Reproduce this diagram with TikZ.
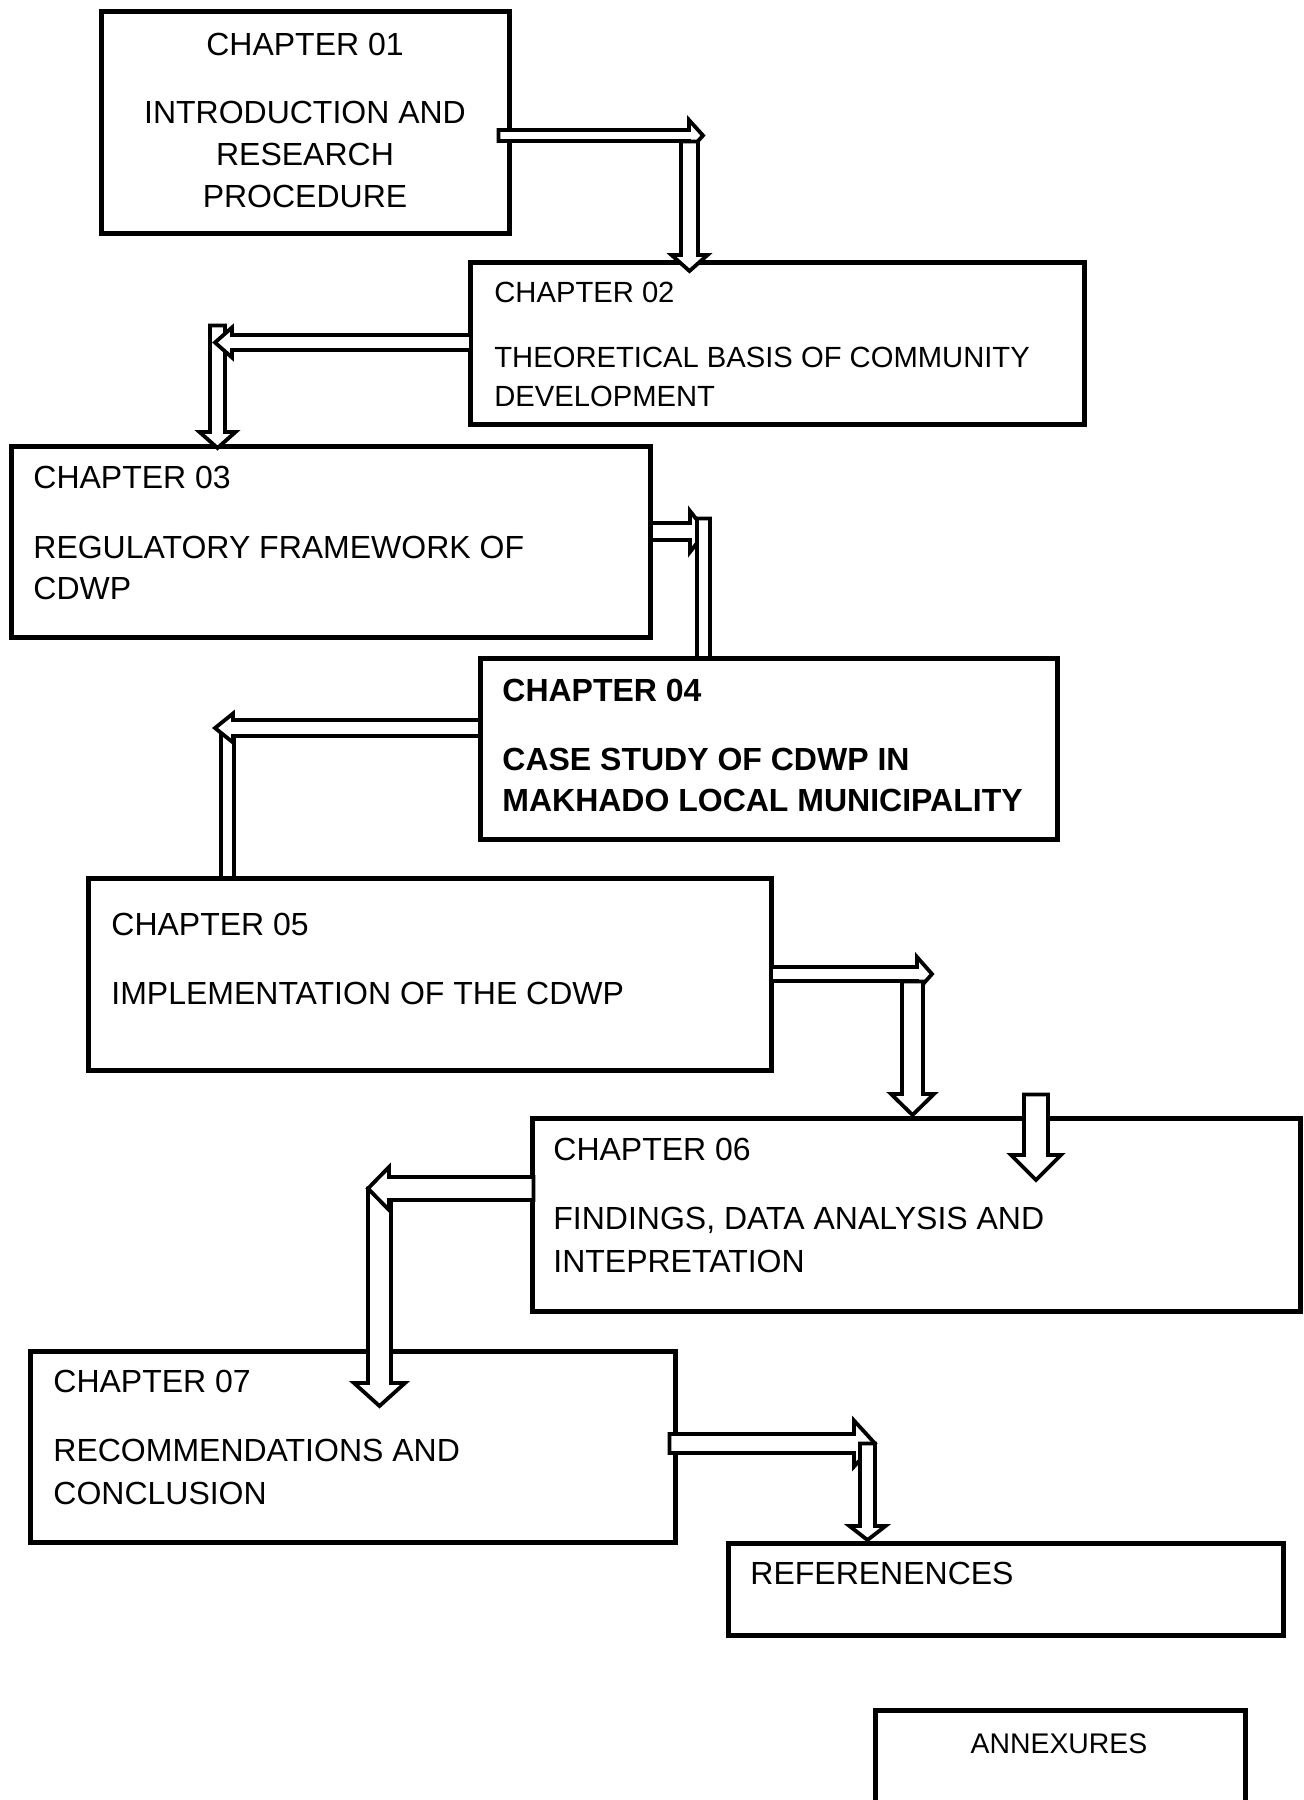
\documentclass[tikz,border=0pt]{standalone}
\usepackage{fontspec}
\setmainfont{Liberation Sans}
\usetikzlibrary{fit}

% hollow block arrows (coordinates in px, y pointing down)
% right: x-start, x-tip, y, shaft half-width, head half-width, head length
\newcommand\blkright[6]{\path[blockarrow] (#1,#3-#4) -- (#2-#6,#3-#4) -- (#2-#6,#3-#5) -- (#2,#3) -- (#2-#6,#3+#5) -- (#2-#6,#3+#4) -- (#1,#3+#4) -- cycle;}
% left: x-start, x-tip, y, shaft half-width, head half-width, head length
\newcommand\blkleft[6]{\path[blockarrow] (#1,#3-#4) -- (#2+#6,#3-#4) -- (#2+#6,#3-#5) -- (#2,#3) -- (#2+#6,#3+#5) -- (#2+#6,#3+#4) -- (#1,#3+#4) -- cycle;}
% down: x, y-start, y-tip, shaft half-width, head half-width, head length
\newcommand\blkdown[6]{\path[blockarrow] (#1-#4,#2) -- (#1-#4,#3-#6) -- (#1-#5,#3-#6) -- (#1,#3) -- (#1+#5,#3-#6) -- (#1+#4,#3-#6) -- (#1+#4,#2) -- cycle;}

\tikzset{
  chapbox/.style={draw, line width=2.5pt, fill=white, inner sep=0pt, rectangle},
  blockarrow/.style={draw, line width=1.9pt, fill=white, line join=miter, miter limit=10},
  lbl/.style={anchor=base west, inner sep=0pt, font=\fontsize{16pt}{19pt}\selectfont},
  lblsmall/.style={lbl, font=\fontsize{14.6pt}{18pt}\selectfont},
  lblbold/.style={lbl, font=\fontsize{16pt}{19pt}\selectfont\bfseries},
  lblmid/.style={lbl, anchor=base},
}

\begin{document}
\begin{tikzpicture}[x=0.5pt, y=-0.5pt]
\useasboundingbox (0,0) rectangle (1303,1800);
\fill[white] (0,0) rectangle (1303,1800);

% arrows that run underneath the chapter 04 and 05 boxes
\blkright{650}{706}{531.5}{8.5}{20.5}{16}
\blkdown{703.5}{518.5}{700}{6.5}{18}{16}
\blkdown{227.5}{728}{900}{6.5}{18}{16}
\blkleft{482}{215}{728}{8}{14.5}{18}

% chapter boxes
\node[chapbox, fit={(101,11) (509,233)}] (c1) {};
\node[chapbox, fit={(470,262) (1084,424)}] (c2) {};
\node[chapbox, fit={(11,446) (650,637)}] (c3) {};
\node[chapbox, fit={(480,658) (1057,839)}] (c4) {};
\node[chapbox, fit={(88,878) (771,1070)}] (c5) {};
\node[chapbox, fit={(532,1118) (1300.5,1311)}] (c6) {};
\node[chapbox, fit={(30,1351) (675,1542)}] (c7) {};
\node[chapbox, fit={(728,1543) (1283,1635)}] (refs) {};
\node[chapbox, fit={(875,1710) (1245,1830)}] (annex) {};

% arrows drawn over the boxes
\blkright{498.5}{703}{135.5}{5.5}{15.5}{14}
\blkdown{689.5}{141.5}{271}{8.5}{18}{16}
\blkdown{217.5}{325.5}{448}{7.5}{18}{16}
\blkleft{471}{215}{342.5}{7.5}{15}{17}
\blkright{771}{932}{974}{7}{17}{15}
\blkdown{912.5}{981.5}{1115}{10.5}{21.5}{21}
\blkdown{1036}{1094.5}{1180}{12}{25}{25}
\blkdown{379.5}{1188.5}{1406}{11.5}{25.5}{23}
\blkleft{533.5}{368}{1188.5}{11.5}{21.5}{21}
\blkright{669.5}{875}{1443.5}{9.5}{23}{21}
\blkdown{867.5}{1443.5}{1540}{7.5}{18}{14}

% texts
\node[lblmid] (t1a) at (305,55) {CHAPTER 01};
\node[lblmid] (t1b) at (305,123) {INTRODUCTION AND};
\node[lblmid] (t1c) at (305,165.3) {RESEARCH};
\node[lblmid] (t1d) at (305,207.8) {PROCEDURE};

\node[lblsmall] (t2a) at (494,302) {CHAPTER 02};
\node[lblsmall] (t2b) at (494,367.5) {THEORETICAL BASIS OF COMMUNITY};
\node[lblsmall] (t2c) at (494,406.5) {DEVELOPMENT};

\node[lbl] (t3a) at (33,488) {CHAPTER 03};
\node[lbl] (t3b) at (33,558) {REGULATORY FRAMEWORK OF};
\node[lbl] (t3c) at (33,599.5) {CDWP};

\node[lblbold] (t4a) at (502,701.5) {CHAPTER 04};
\node[lblbold] (t4b) at (502,770.5) {CASE STUDY OF CDWP IN};
\node[lblbold] (t4c) at (502,811.5) {MAKHADO LOCAL MUNICIPALITY};

\node[lbl] (t5a) at (111,935.5) {CHAPTER 05};
\node[lbl] (t5b) at (111,1004.5) {IMPLEMENTATION OF THE CDWP};

\node[lbl] (t6a) at (553,1160.5) {CHAPTER 06};
\node[lbl] (t6b) at (553,1229.5) {FINDINGS, DATA ANALYSIS AND};
\node[lbl] (t6c) at (553,1272) {INTEPRETATION};

\node[lbl] (t7a) at (53,1392.5) {CHAPTER 07};
\node[lbl] (t7b) at (53,1461.5) {RECOMMENDATIONS AND};
\node[lbl] (t7c) at (53,1504) {CONCLUSION};

\node[lbl] (t8) at (750,1584.5) {REFERENENCES};
\node[lblmid, font=\fontsize{14.2pt}{17pt}\selectfont] (t9) at (1059,1753) {ANNEXURES};
\end{tikzpicture}
\end{document}
